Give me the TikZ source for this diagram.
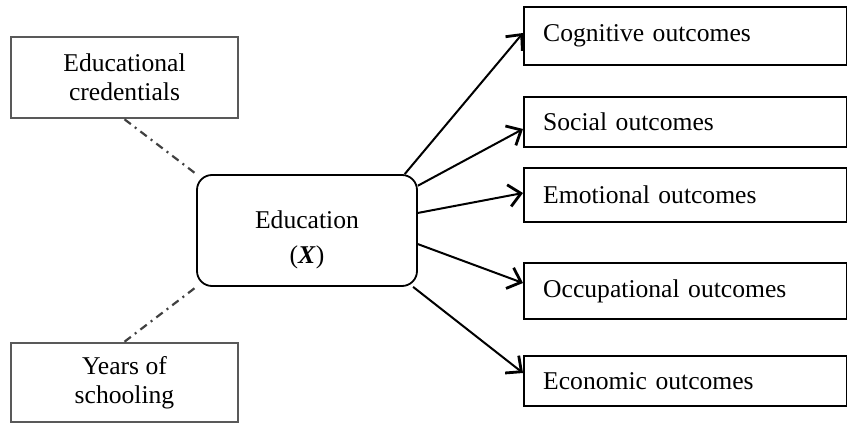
\documentclass[tikz,border=0pt]{standalone}
\usepackage{fontspec}
\setmainfont{Liberation Serif}
\usetikzlibrary{arrows.meta}

\begin{document}
\begin{tikzpicture}[x=0.5pt, y=-0.5pt,
    leftbox/.style={draw=black!65, line width=1.3pt, minimum width=113.5pt, inner sep=0pt, align=center, font=\fontsize{12.8}{14.5}\selectfont},
    edubox/.style={draw, line width=0.9pt, rounded corners=7.5pt, minimum width=110pt, minimum height=55.5pt, inner sep=0pt, font=\fontsize{12.8}{17.5}\selectfont},
    outbox/.style={draw, line width=1.2pt, anchor=west, inner xsep=9.5pt, inner ysep=0pt, text width=142.5pt, align=left, font=\fontsize{12.8}{14.5}\selectfont},
    effect/.style={line width=1pt, -{Straight Barb[length=6pt, width=11pt, line width=1.4pt]}},
    link/.style={draw=black!75, line width=1.1pt, dash pattern=on 4pt off 2.5pt on 1pt off 2.5pt}]
        \useasboundingbox (0,0) rectangle (847,423);
        % left side
        \node[leftbox, minimum height=40.5pt] (cred) at (124.5,77.5) {Educational\\credentials};
        \node[leftbox, minimum height=39.5pt] (years) at (124.5,382.5) {Years of\\schooling};
        % centre
        \node[edubox] (edu) at (307,230.5) {\raisebox{-4pt}[\height][\depth]{\begin{tabular}{@{}c@{}}Education\\(\textbf{\textit{X}})\end{tabular}}};
        % outcomes
        \node[outbox, minimum height=29pt] (cog) at (523,36) {Cognitive outcomes};
        \node[outbox, minimum height=25pt] (soc) at (523,122) {Social outcomes};
        \node[outbox, minimum height=27pt] (emo) at (523,195) {Emotional outcomes};
        \node[outbox, minimum height=28pt] (occ) at (523,291) {Occupational outcomes};
        \node[outbox, minimum height=25pt] (eco) at (523,381) {Economic outcomes};
        % connectors
        \draw[link] (cred.south) -- (edu.153);
        \draw[link] (years.north) -- (edu.207);
        \draw[effect] (edu.30) -- ([yshift=1.5pt]cog.west);
        \draw[effect] (edu.22) -- ([yshift=-3.5pt]soc.west);
        \draw[effect] (edu.9) -- ([yshift=1pt]emo.west);
        \draw[effect] (edu.-7) -- ([yshift=4pt]occ.west);
        \draw[effect] (edu.-28) -- ([yshift=4pt]eco.west);
    \end{tikzpicture}
\end{document}
